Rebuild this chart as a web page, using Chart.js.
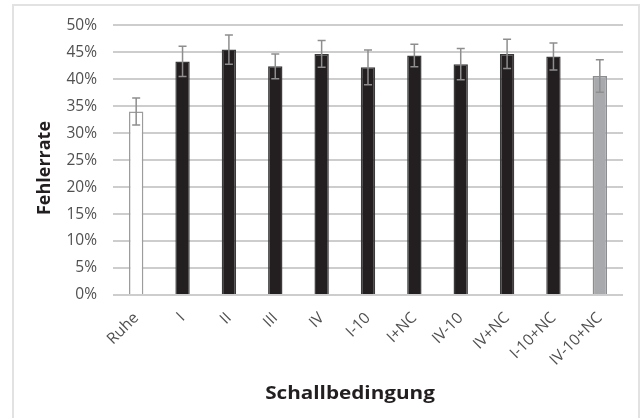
<!DOCTYPE html>
<html>
<head>
<meta charset="utf-8">
<script src="https://cdn.jsdelivr.net/npm/chart.js@4.4.1/dist/chart.umd.min.js"></script>
<style>
  html, body { margin: 0; padding: 0; background: #ffffff; }
  #wrap { position: relative; width: 641px; height: 418px; }
  #frame { position: absolute; left: 12px; top: 4px; width: 628px; height: 420px;
           border: 2px solid #e2e2e2; box-sizing: border-box; pointer-events: none; }
</style>
</head>
<body>
<div id="wrap">
  <canvas id="chart" width="641" height="418"></canvas>
  <div id="frame"></div>
</div>
<script>
// Schallbedingungen (categories)
const categories = ['Ruhe', 'I', 'II', 'III', 'IV', 'I-10', 'I+NC', 'IV-10', 'IV+NC', 'I-10+NC', 'IV-10+NC'];
// Mittlere Fehlerrate in %
const errorRate = [34.0, 43.3, 45.5, 42.4, 44.7, 42.2, 44.4, 42.8, 44.7, 44.2, 40.6];
// Fehlerbalken (± in %)
const errorSpread = [2.5, 2.8, 2.7, 2.3, 2.5, 3.2, 2.1, 2.9, 2.7, 2.5, 3.0];
// Y-Achsenbeschriftung
const yTicks = [0, 5, 10, 15, 20, 25, 30, 35, 40, 45, 50];

const fills = categories.map((c, i) => i === 0 ? '#ffffff' : (i === categories.length - 1 ? '#a7a9ac' : '#231f20'));
const strokes = categories.map((c, i) => i === 0 ? '#9c9c9c' : (i === categories.length - 1 ? '#8c8d90' : '#3b3b3b'));

// vertical error whiskers with caps, positioned by the chart's scales
const errorBars = {
  id: 'errorBars',
  afterDatasetsDraw(chart) {
    const ctx = chart.ctx;
    const xs = chart.scales.x, ys = chart.scales.y;
    ctx.save();
    ctx.strokeStyle = '#8e8e8e';
    ctx.lineWidth = 1.5;
    errorRate.forEach((v, i) => {
      const x = xs.getPixelForValue(i);
      const yHi = ys.getPixelForValue(v + errorSpread[i]);
      const yLo = ys.getPixelForValue(v - errorSpread[i]);
      ctx.beginPath();
      ctx.moveTo(x, yHi); ctx.lineTo(x, yLo);
      ctx.moveTo(x - 4, yHi); ctx.lineTo(x + 4, yHi);
      ctx.moveTo(x - 4, yLo); ctx.lineTo(x + 4, yLo);
      ctx.stroke();
    });
    ctx.restore();
  }
};

// axis titles (slightly widened bold face)
const axisTitles = {
  id: 'axisTitles',
  afterDraw(chart) {
    const ctx = chart.ctx;
    ctx.save();
    ctx.fillStyle = '#231f20';
    ctx.font = 'bold 18px "Open Sans"';
    ctx.textAlign = 'center';
    ctx.textBaseline = 'middle';
    ctx.save();
    ctx.translate(350, 394);
    ctx.scale(1.15, 1);
    ctx.fillText('Schallbedingung', 0, 0);
    ctx.restore();
    ctx.translate(45, 168);
    ctx.rotate(-Math.PI / 2);
    ctx.fillText('Fehlerrate', 0, 0);
    ctx.restore();
  }
};

new Chart(document.getElementById('chart'), {
  type: 'bar',
  data: {
    labels: categories,
    datasets: [{
      data: errorRate,
      backgroundColor: fills,
      borderColor: strokes,
      borderWidth: 1.5,
      barPercentage: 0.31,
      categoryPercentage: 1.0
    }]
  },
  options: {
    responsive: false,
    animation: false,
    layout: { padding: { left: 13, top: 23, right: 18, bottom: 0 } },
    plugins: { legend: { display: false }, tooltip: { enabled: false } },
    scales: {
      x: {
        afterFit(scale) { scale.height = 123; },
        grid: { display: false },
        border: { display: false },
        ticks: {
          autoSkip: false,
          minRotation: 45,
          maxRotation: 45,
          padding: 6,
          color: '#505050',
          font: { family: '"Open Sans"', size: 15.5 }
        }
      },
      y: {
        min: 0,
        max: 50,
        afterBuildTicks(scale) { scale.ticks = yTicks.map(v => ({ value: v })); },
        afterFit(scale) { scale.width = 100; },
        grid: { color: '#cdcdcd', lineWidth: 2, drawTicks: false },
        border: { display: false },
        ticks: {
          padding: 16,
          color: '#505050',
          font: { family: '"Open Sans"', size: 15.5 },
          callback: (v) => v + '%'
        }
      }
    }
  },
  plugins: [errorBars, axisTitles]
});
</script>
</body>
</html>
